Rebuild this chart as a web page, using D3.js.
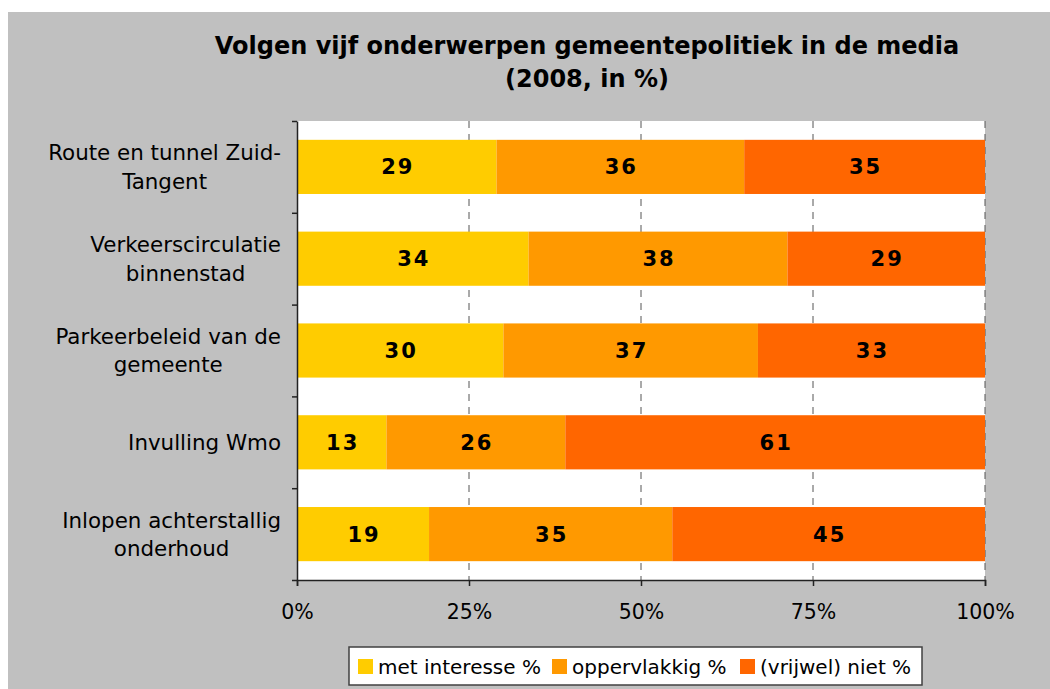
<!DOCTYPE html>
<html>
<head>
<meta charset="utf-8">
<script src="https://cdn.jsdelivr.net/npm/d3@7"></script>
<style>
  body { margin: 0; background: #fff; }
  text { font-family: "DejaVu Sans", Verdana, sans-serif; fill: #000; }
</style>
</head>
<body>
<div id="chart"></div>
<script>
// data
const categories = [
  "Route en tunnel Zuid-|Tangent",
  "Verkeerscirculatie|binnenstad",
  "Parkeerbeleid van de|gemeente",
  "Invulling Wmo",
  "Inlopen achterstallig|onderhoud"
];
const interesse = [29, 34, 30, 13, 19];
const oppervlakkig = [36, 38, 37, 26, 35];
const niet = [35, 29, 33, 61, 45];
const seriesNames = ["met interesse %", "oppervlakkig %", "(vrijwel) niet %"];
const colors = ["#FFCC00", "#FF9900", "#FF6600"];
const xTicks = [0, 0.25, 0.5, 0.75, 1];

const svgWidth = 1050;
const svgHeight = 689;
const margin = { top: 121, right: 65, bottom: 109, left: 297 };
const width = svgWidth - margin.left - margin.right;
const height = svgHeight - margin.top - margin.bottom;

const svg = d3.select("#chart").append("svg")
  .attr("width", svgWidth)
  .attr("height", svgHeight);

// grey chart area
svg.append("rect")
  .attr("x", 8).attr("y", 12)
  .attr("width", svgWidth - 8).attr("height", svgHeight - 12)
  .attr("fill", "#C0C0C0");

// title
const title = svg.append("text")
  .attr("text-anchor", "middle")
  .style("font-size", "24px")
  .style("font-weight", "bold");
title.append("tspan").attr("x", 587).attr("y", 54).text("Volgen vijf onderwerpen gemeentepolitiek in de media");
title.append("tspan").attr("x", 587).attr("y", 87).text("(2008, in %)");

const chartGroup = svg.append("g")
  .attr("transform", `translate(${margin.left}, ${margin.top})`);

chartGroup.append("rect")
  .attr("width", width).attr("height", height)
  .attr("fill", "#fff");

// scales
const xScale = d3.scaleLinear().domain([0, 1]).range([0, width]);
const yScale = d3.scaleBand()
  .domain(categories)
  .range([0, height])
  .paddingInner(0.41)
  .paddingOuter(0.205);
const yTickScale = d3.scaleLinear().domain([0, categories.length]).range([0, height]);

// dashed gridlines
chartGroup.selectAll(".grid")
  .data(xTicks.slice(1))
  .enter()
  .append("line")
  .attr("x1", d => xScale(d)).attr("x2", d => xScale(d))
  .attr("y1", 0).attr("y2", height)
  .attr("stroke", "#555")
  .attr("stroke-width", 1)
  .attr("stroke-dasharray", "7,6");

// stacked, normalised to 100%
const rows = categories.map((c, i) => {
  const vals = [interesse[i], oppervlakkig[i], niet[i]];
  const total = d3.sum(vals);
  let acc = 0;
  return vals.map((v, k) => {
    const seg = { cat: c, k: k, v: v, x0: acc / total, x1: (acc + v) / total };
    acc += v;
    return seg;
  });
});
const segs = rows.flat();

chartGroup.selectAll(".bar")
  .data(segs)
  .enter()
  .append("rect")
  .attr("x", d => xScale(d.x0))
  .attr("y", d => yScale(d.cat))
  .attr("width", d => xScale(d.x1) - xScale(d.x0))
  .attr("height", yScale.bandwidth())
  .attr("fill", d => colors[d.k]);

chartGroup.selectAll(".val")
  .data(segs)
  .enter()
  .append("text")
  .attr("x", d => (xScale(d.x0) + xScale(d.x1)) / 2 + 1)
  .attr("y", d => yScale(d.cat) + yScale.bandwidth() / 2)
  .attr("dy", "0.36em")
  .attr("text-anchor", "middle")
  .style("font-size", "21px")
  .style("font-weight", "bold")
  .style("letter-spacing", "2px")
  .text(d => d.v);

// axes
const bottomAxis = d3.axisBottom(xScale)
  .tickValues(xTicks)
  .tickFormat(d3.format(".0%"))
  .tickSize(6)
  .tickPadding(18);
const xAxis = chartGroup.append("g")
  .attr("transform", `translate(0, ${height})`)
  .call(bottomAxis);
xAxis.select(".domain").attr("stroke", "#222").attr("stroke-width", 1.5);
xAxis.selectAll(".tick line").attr("stroke", "#222").attr("stroke-width", 1.5);
xAxis.selectAll(".tick text")
  .style("font-family", "DejaVu Sans, sans-serif")
  .style("font-size", "20.5px")
  .attr("fill", "#000");

const leftAxis = d3.axisLeft(yTickScale)
  .tickValues(d3.range(categories.length + 1))
  .tickFormat("")
  .tickSize(5)
  .tickSizeOuter(0);
const yAxis = chartGroup.append("g").call(leftAxis);
yAxis.select(".domain").attr("stroke", "#222").attr("stroke-width", 1.5);
yAxis.selectAll(".tick line").attr("stroke", "#222").attr("stroke-width", 1.5);

// category labels: lines centred, block right aligned
const labelRight = 281 - margin.left;
const lineH = 28.5;
categories.forEach(c => {
  const lines = c.split("|");
  const g = chartGroup.append("text")
    .attr("text-anchor", "middle")
    .style("font-size", "21.4px");
  const cy = yScale(c) + yScale.bandwidth() / 2;
  const spans = lines.map((ln, j) => g.append("tspan")
    .attr("y", cy + (j - (lines.length - 1) / 2) * lineH)
    .attr("dy", "0.36em")
    .text(ln));
  const maxW = d3.max(spans, s => s.node().getComputedTextLength());
  spans.forEach(s => s.attr("x", labelRight - maxW / 2));
});

// legend
const legend = svg.append("g");
legend.append("rect")
  .attr("x", 349).attr("y", 647)
  .attr("width", 573).attr("height", 38)
  .attr("fill", "#fff")
  .attr("stroke", "#404040")
  .attr("stroke-width", 1.5);
const legX = [358, 552, 740];
seriesNames.forEach((name, i) => {
  legend.append("rect")
    .attr("x", legX[i]).attr("y", 659)
    .attr("width", 15).attr("height", 15)
    .attr("fill", colors[i]);
  legend.append("text")
    .attr("x", legX[i] + 20).attr("y", 674)
    .style("font-size", "20px")
    .text(name);
});
</script>
</body>
</html>
